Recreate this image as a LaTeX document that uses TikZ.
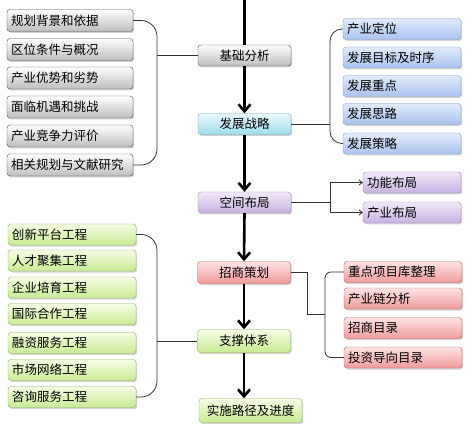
\documentclass[tikz,border=0pt]{standalone}
\usepackage{fontspec}
\setmainfont{Noto Sans CJK SC}
\usetikzlibrary{arrows.meta, shadows}

\definecolor{grayTop}{HTML}{FFFFFF}
\definecolor{grayBot}{HTML}{BDBDBD}
\definecolor{grayLine}{HTML}{4A4A4A}
\definecolor{cyanTop}{HTML}{EAFBFF}
\definecolor{cyanBot}{HTML}{9FDCEE}
\definecolor{cyanLine}{HTML}{6FA9BA}
\definecolor{blueTop}{HTML}{E2EBFB}
\definecolor{blueBot}{HTML}{A9C3EF}
\definecolor{blueLine}{HTML}{7F9BCB}
\definecolor{purpTop}{HTML}{F1E9F9}
\definecolor{purpBot}{HTML}{C6B2E2}
\definecolor{purpLine}{HTML}{9985B6}
\definecolor{redTop}{HTML}{FDE3E3}
\definecolor{redBot}{HTML}{F09A9A}
\definecolor{redLine}{HTML}{BE6464}
\definecolor{greenTop}{HTML}{F6FDE4}
\definecolor{greenBot}{HTML}{C8EB94}
\definecolor{greenLine}{HTML}{8DAE62}

\begin{document}
\begin{tikzpicture}[x=1pt, y=-1pt,
    box/.style={draw, rounded corners=3pt, minimum height=21pt, inner sep=0pt,
        font=\fontsize{12.5}{14}\selectfont,
        drop shadow={opacity=0.35, shadow xshift=1.2pt, shadow yshift=-1.5pt}},
    mainbox/.style={box, minimum width=93pt, align=center},
    sidebox/.style={box, align=left, inner xsep=4pt},
    graybox/.style={top color=grayTop, bottom color=grayBot, draw=grayLine},
    cyanbox/.style={top color=cyanTop, bottom color=cyanBot, draw=cyanLine},
    bluebox/.style={top color=blueTop, bottom color=blueBot, draw=blueLine},
    purpbox/.style={top color=purpTop, bottom color=purpBot, draw=purpLine},
    redbox/.style={top color=redTop, bottom color=redBot, draw=redLine},
    greenbox/.style={top color=greenTop, bottom color=greenBot, draw=greenLine},
    flow/.style={line width=2.6pt, -{Straight Barb[length=7pt, width=12pt]}},
    brace/.style={draw=black!80, line width=0.8pt},
    branch/.style={draw=black!80, line width=0.8pt, -{Straight Barb[length=3pt, width=5pt]}}
]

    \useasboundingbox (0,0) rectangle (470,427);

    % Main column
    \node[mainbox, graybox] (jichu) at (244.5, 55.5) {基础分析};
    \node[mainbox, cyanbox] (zhanlue) at (244.5, 124) {发展战略};
    \node[mainbox, purpbox] (buju) at (244.5, 202.5) {空间布局};
    \node[mainbox, redbox, minimum height=22pt] (zhaoshang) at (244, 272.5) {招商策划};
    \node[mainbox, greenbox, minimum height=23pt] (zhicheng) at (244, 341) {支撑体系};
    \node[mainbox, greenbox, minimum width=103pt, minimum height=24pt] (shishi) at (250.5, 410.5) {实施路径及进度};

    \coordinate (top) at (244.5, 0);
    \draw[line width=2.6pt] (top) -- (jichu.north);
    \draw[flow] (jichu.south) -- (zhanlue.north);
    \draw[flow] (zhanlue.south) -- (buju.north);
    \draw[flow] (buju.south) -- (zhaoshang.north);
    \draw[flow] (zhaoshang.south) -- (zhicheng.north);
    \draw[flow] (zhicheng.south) -- (zhicheng.south |- shishi.north);

    % Left gray boxes
    \foreach \name/\txt/\y in {g1/规划背景和依据/20.5, g2/区位条件与概况/49.5,
        g3/产业优势和劣势/78, g4/面临机遇和挑战/107, g5/产业竞争力评价/136,
        g6/相关规划与文献研究/165}
        \node[sidebox, graybox, text width=118pt, minimum height=22pt] (\name) at (70, \y) {\txt};

    \coordinate (gbr) at (157, 0);
    \draw[brace, rounded corners=16pt] (g1.east) -- (g1.east -| gbr) -- (g6.east -| gbr) -- (g6.east);
    \draw[brace] (jichu.west -| gbr) -- (jichu.west);

    % Right blue boxes
    \foreach \name/\txt/\y in {b1/产业定位/29, b2/发展目标及时序/57.5,
        b3/发展重点/86, b4/发展思路/114, b5/发展策略/143.5}
        \node[sidebox, bluebox, text width=110pt] (\name) at (402, \y) {\txt};

    \coordinate (bbr) at (330, 0);
    \draw[brace, rounded corners=12pt] (b1.west) -- (b1.west -| bbr) -- (b5.west -| bbr) -- (b5.west);
    \draw[brace] (zhanlue.east) -- (zhanlue.east -| bbr);

    % Right purple boxes
    \node[sidebox, purpbox, text width=90pt] (p1) at (412, 182.5) {功能布局};
    \node[sidebox, purpbox, text width=90pt] (p2) at (412, 212.5) {产业布局};

    \coordinate (pbr) at (330, 0);
    \draw[branch] (buju.east) -- (buju.east -| pbr) |- (p1.west);
    \draw[branch] (buju.east) -- (buju.east -| pbr) |- (p2.west);

    % Right red boxes
    \foreach \name/\txt/\y in {r1/重点项目库整理/272, r2/产业链分析/298.5,
        r3/招商目录/328, r4/投资导向目录/357.5}
        \node[sidebox, redbox, text width=110pt] (\name) at (403, \y) {\txt};

    \coordinate (rjoin) at (307, 314);
    \coordinate (rbr) at (325, 314);
    \draw[brace] (zhaoshang.east) -| (rjoin) -- (rbr);
    \draw[brace, rounded corners=6pt] (r1.west) -- (r1.west -| rbr) -- (r4.west -| rbr) -- (r4.west);

    % Left green boxes
    \foreach \name/\txt/\y in {e1/创新平台工程/234.5, e2/人才聚集工程/260.5,
        e3/企业培育工程/287.5, e4/国际合作工程/314, e5/融资服务工程/343,
        e6/市场网络工程/370, e7/咨询服务工程/397}
        \node[sidebox, greenbox, text width=120pt] (\name) at (72, \y) {\txt};

    \coordinate (ebr) at (157, 0);
    \draw[brace, rounded corners=16pt] (e1.east) -- (e1.east -| ebr) -- (e7.east -| ebr) -- (e7.east);
    \draw[brace] (zhicheng.west -| ebr) -- (zhicheng.west);

\end{tikzpicture}
\end{document}
